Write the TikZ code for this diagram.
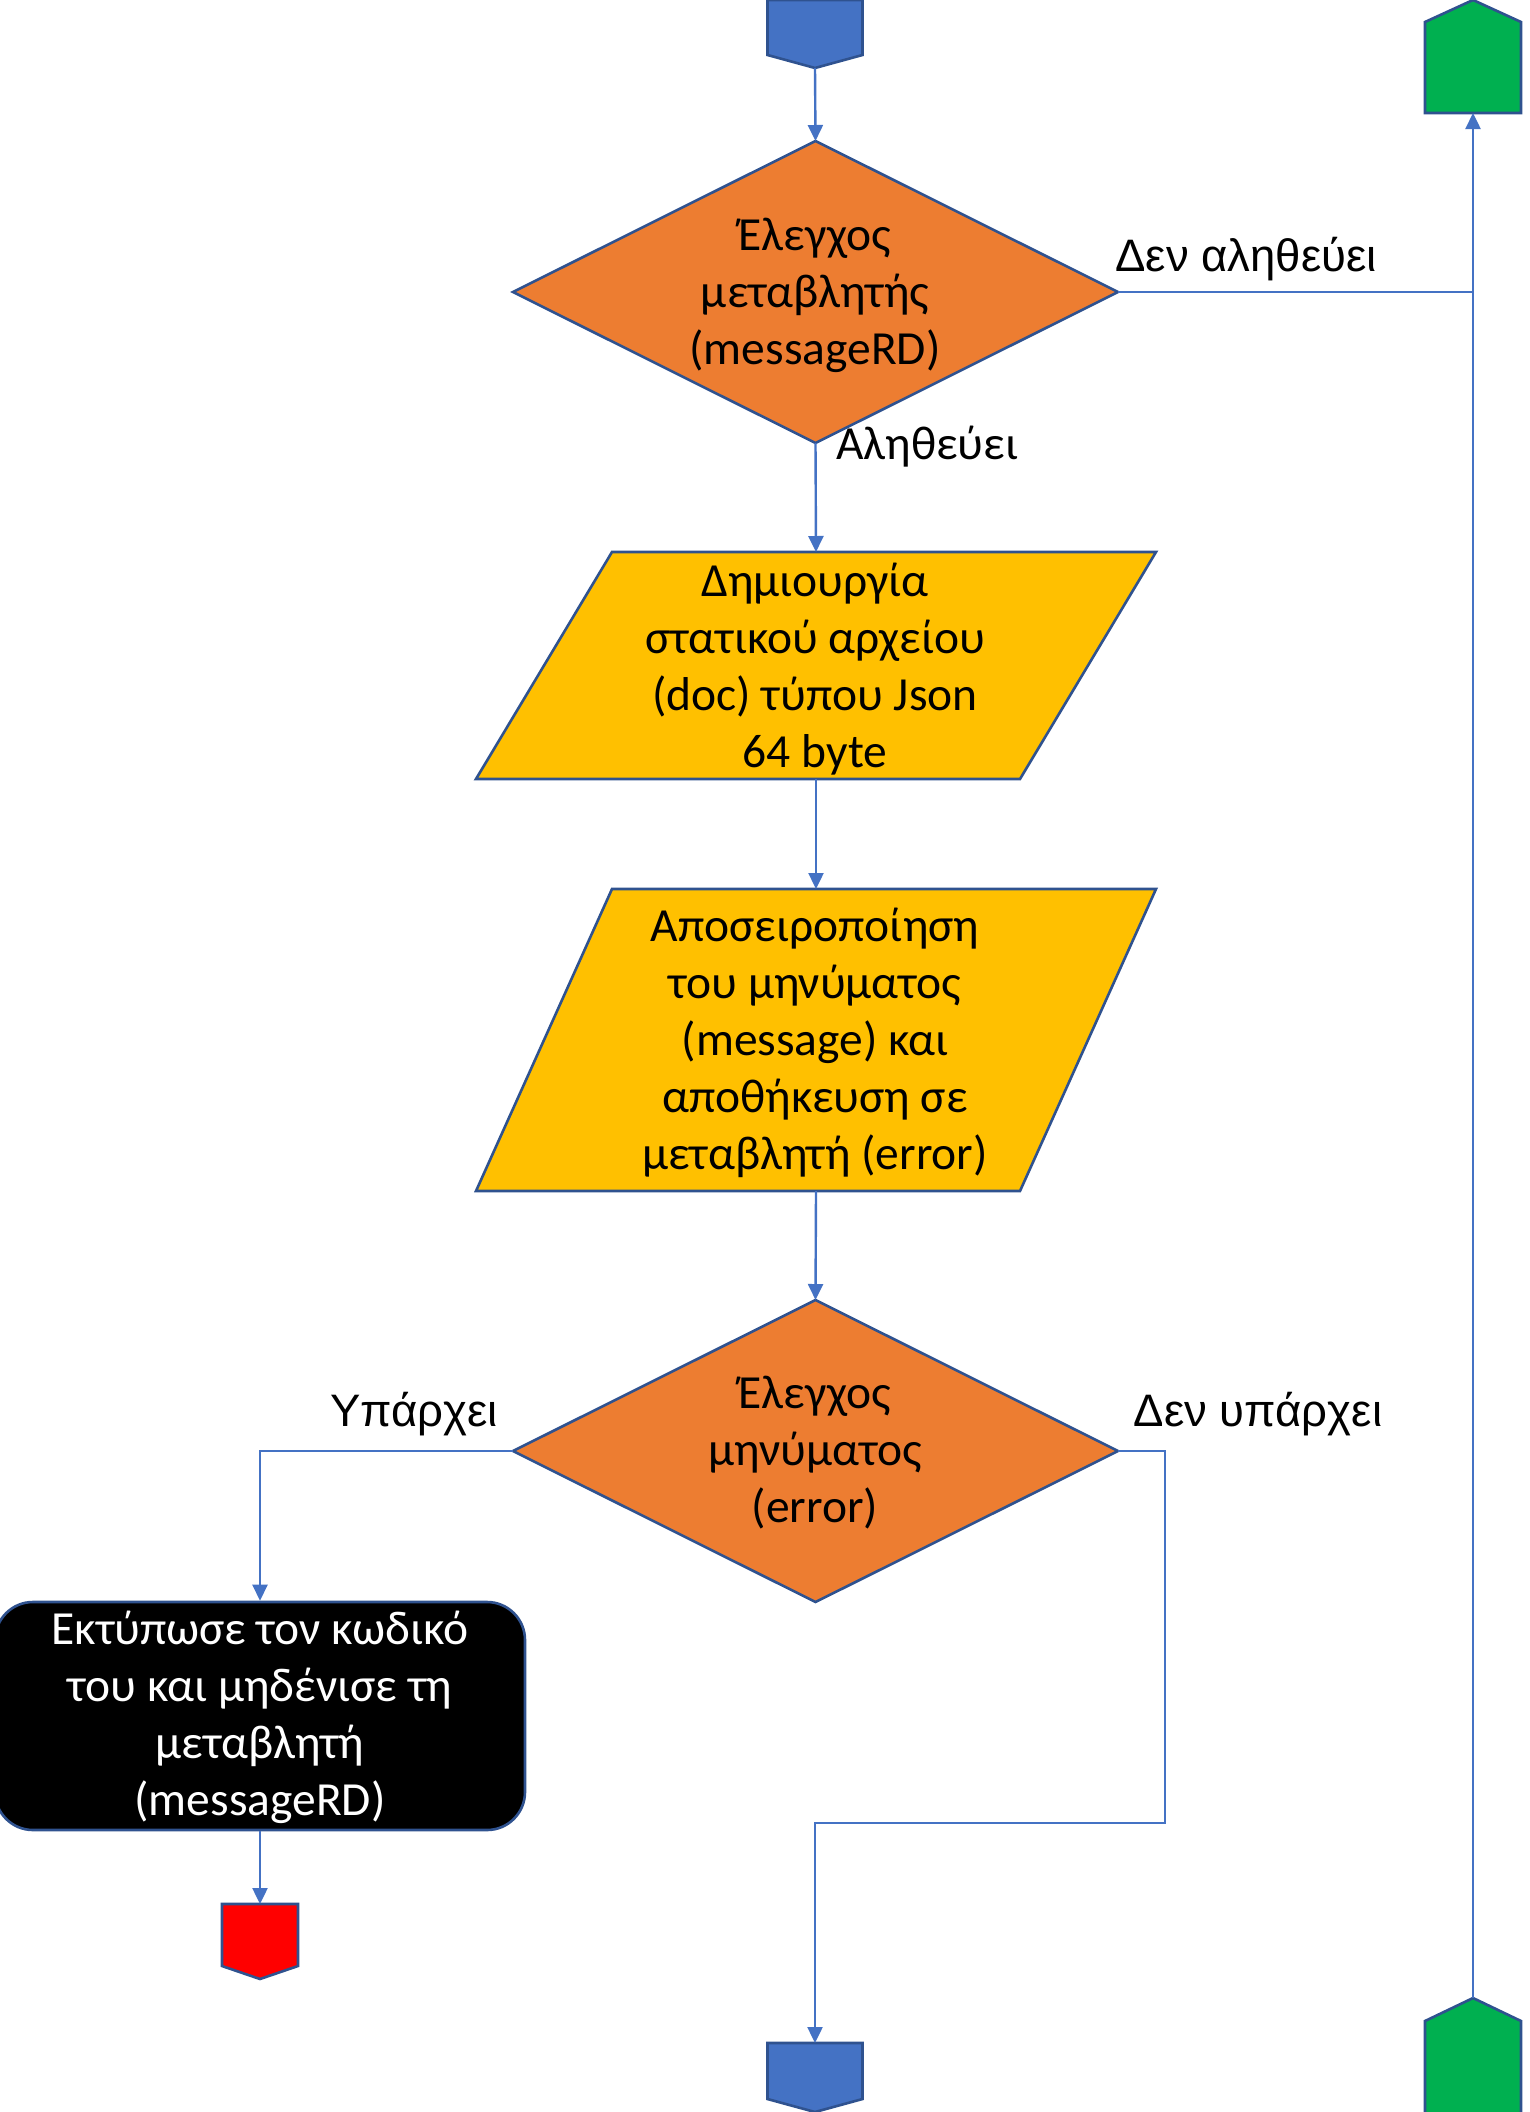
\documentclass[tikz,border=0pt]{standalone}
\usepackage{fontspec}
\setmainfont{Carlito}
\newfontfamily\labelfont{Liberation Sans}
\usetikzlibrary{arrows.meta}

\definecolor{linkblue}{HTML}{4472C4}
\definecolor{edgeblue}{HTML}{2F528F}
\definecolor{termblue}{HTML}{4472C4}
\definecolor{decorange}{HTML}{ED7D31}
\definecolor{ioyellow}{HTML}{FFC000}
\definecolor{pagegreen}{HTML}{00B050}
\definecolor{stopred}{HTML}{FF0000}

\tikzset{
  anchorbox/.style={rectangle, inner sep=0pt, outer sep=0pt},
  shapeline/.style={draw=edgeblue, line width=2.6pt, line join=miter},
  shapetext/.style={align=center, font=\fontsize{47.5}{57}\selectfont, inner sep=0pt},
  flow/.style={draw=linkblue, line width=2.4pt, -{Triangle[length=16pt,width=15pt]}},
  plainflow/.style={draw=linkblue, line width=2.4pt},
  edgelabel/.style={font=\labelfont\fontsize{45.5}{54}\selectfont, inner sep=0pt},
}

\begin{document}
\begin{tikzpicture}[x=1pt, y=-1pt]
\useasboundingbox (0,0) rectangle (1529,2112);

% ---- anchor carriers for every shape ----
\node[anchorbox, minimum width=95pt, minimum height=68pt] (start) at (815,34) {};
\node[anchorbox, minimum width=605pt, minimum height=302pt] (chk1) at (815.5,292) {};
\node[anchorbox, minimum width=680pt, minimum height=227pt] (mk) at (816,665.5) {};
\node[anchorbox, minimum width=680pt, minimum height=302pt] (deser) at (816,1040) {};
\node[anchorbox, minimum width=605pt, minimum height=302pt] (chk2) at (815.5,1451) {};
\node[anchorbox, minimum width=96pt, minimum height=113pt] (gtop) at (1473,56.5) {};
\node[anchorbox, minimum width=96pt, minimum height=130pt] (gbot) at (1473,2063) {};
\node[anchorbox, minimum width=95pt, minimum height=69pt] (endblue) at (815,2077.5) {};
\node[anchorbox, minimum width=76pt, minimum height=75pt] (stop) at (260,1941.5) {};

% ---- off-page connectors ----
\path[shapeline, fill=termblue]
  (start.north west) -- (start.north east) -- ([yshift=13pt]start.south east)
  -- (start.south) -- ([yshift=13pt]start.south west) -- cycle;
\path[shapeline, fill=termblue]
  (endblue.north west) -- (endblue.north east) -- ([yshift=13pt]endblue.south east)
  -- (endblue.south) -- ([yshift=13pt]endblue.south west) -- cycle;
\path[shapeline, fill=stopred]
  (stop.north west) -- (stop.north east) -- ([yshift=13pt]stop.south east)
  -- (stop.south) -- ([yshift=13pt]stop.south west) -- cycle;
\path[shapeline, fill=pagegreen]
  (gtop.south west) -- (gtop.south east) -- ([yshift=-22pt]gtop.north east)
  -- (gtop.north) -- ([yshift=-22pt]gtop.north west) -- cycle;
\path[shapeline, fill=pagegreen]
  (gbot.south west) -- (gbot.south east) -- ([yshift=-23pt]gbot.north east)
  -- (gbot.north) -- ([yshift=-23pt]gbot.north west) -- cycle;

% ---- decisions ----
\path[shapeline, fill=decorange]
  (chk1.north) -- (chk1.east) -- (chk1.south) -- (chk1.west) -- cycle;
\path[shapeline, fill=decorange]
  (chk2.north) -- (chk2.east) -- (chk2.south) -- (chk2.west) -- cycle;

% ---- data (parallelograms) ----
\path[shapeline, fill=ioyellow]
  ([xshift=136pt]mk.north west) -- (mk.north east)
  -- ([xshift=-136pt]mk.south east) -- (mk.south west) -- cycle;
\path[shapeline, fill=ioyellow]
  ([xshift=136pt]deser.north west) -- (deser.north east)
  -- ([xshift=-136pt]deser.south east) -- (deser.south west) -- cycle;

% ---- process box ----
\node[rectangle, rounded corners=38pt, fill=black, draw=edgeblue, line width=2.6pt,
      minimum width=530pt, minimum height=228pt, inner sep=0pt] (printbox) at (260,1716) {};

% ---- texts ----
\node[shapetext] (t1) at (815,295) {Έλεγχος\\μεταβλητής\\(messageRD)};
\node[shapetext] (t2) at (815,669) {Δημιουργία\\στατικού αρχείου\\(doc) τύπου Json\\64 byte};
\node[shapetext] (t3) at (815,1043) {Αποσειροποίηση\\του μηνύματος\\(message) και\\αποθήκευση σε\\μεταβλητή (error)};
\node[shapetext] (t4) at (815,1453) {Έλεγχος\\μηνύματος\\(error)};
\node[shapetext, text=white] (t5) at (260,1717) {Εκτύπωσε τον κωδικό\\του και μηδένισε τη\\μεταβλητή\\(messageRD)};

% ---- connectors ----
\draw[flow] (start.south) -- (chk1.north);
\draw[flow] (chk1.south) -- (mk.north);
\draw[flow] (mk.south) -- (deser.north);
\draw[flow] (deser.south) -- (chk2.north);
\draw[plainflow] (chk1.east) -- (chk1.east -| gtop.south);
\draw[flow] (gbot.north) -- (gtop.south);
\draw[flow] (chk2.west) -| (printbox.north);
\draw[flow] (printbox.south) -- (stop.north);
\coordinate (rturn) at (1165,1823);
\draw[flow] (chk2.east) -| (rturn) -| (endblue.north);

% ---- branch labels ----
\node[edgelabel] (l1) at (1246,259) {Δεν αληθεύει};
\node[shapetext] (l2) at (927,447) {Αληθεύει};
\node[edgelabel] (l3) at (414,1414) {Υπάρχει};
\node[edgelabel] (l4) at (1258,1414) {Δεν υπάρχει};
\end{tikzpicture}
\end{document}
